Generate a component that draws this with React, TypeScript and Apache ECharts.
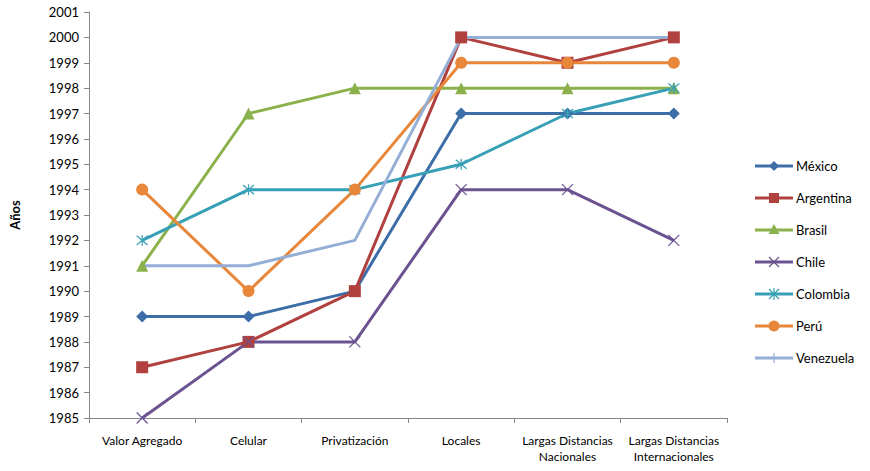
import React, { useEffect, useRef } from "react";
import * as echarts from "echarts";

const categories = [
  "Valor Agregado",
  "Celular",
  "Privatización",
  "Locales",
  "Largas Distancias\nNacionales",
  "Largas Distancias\nInternacionales",
];

const countries = ["México", "Argentina", "Brasil", "Chile", "Colombia", "Perú", "Venezuela"];
const colors = ["#3d6ea8", "#b0413e", "#8ab14b", "#6b5290", "#37a0b6", "#e8863a", "#94aed6"];

const mexico = [1989, 1989, 1990, 1997, 1997, 1997];
const argentina = [1987, 1988, 1990, 2000, 1999, 2000];
const brasil = [1991, 1997, 1998, 1998, 1998, 1998];
const chile = [1985, 1988, 1988, 1994, 1994, 1992];
const colombia = [1992, 1994, 1994, 1995, 1997, 1998];
const peru = [1994, 1990, 1994, 1999, 1999, 1999];
const venezuela = [1991, 1991, 1992, 2000, 2000, 2000];

const crossPath = "path://M0,0L10,10M10,0L0,10";
const asteriskPath = "path://M0,0L10,10M10,0L0,10M5,-1L5,11";
const barPath = "path://M5,0L5,10";

const FONT = "Lato, 'Open Sans', sans-serif";

// Legend key: a short line with the series' marker drawn on top.
function legendMarker(i: number, cx: number, cy: number, color: string): any[] {
  const thin = { stroke: color, lineWidth: 1.2, fill: "none" };
  switch (i) {
    case 0:
      return [{ type: "polygon", shape: { points: [[cx, cy - 5], [cx + 5, cy], [cx, cy + 5], [cx - 5, cy]] }, style: { fill: color } }];
    case 1:
      return [{ type: "rect", shape: { x: cx - 5, y: cy - 5, width: 10, height: 10 }, style: { fill: color } }];
    case 2:
      return [{ type: "polygon", shape: { points: [[cx, cy - 6], [cx + 5.5, cy + 4], [cx - 5.5, cy + 4]] }, style: { fill: color } }];
    case 3:
      return [
        { type: "line", shape: { x1: cx - 5, y1: cy - 5, x2: cx + 5, y2: cy + 5 }, style: thin },
        { type: "line", shape: { x1: cx + 5, y1: cy - 5, x2: cx - 5, y2: cy + 5 }, style: thin },
      ];
    case 4:
      return [
        { type: "line", shape: { x1: cx - 5, y1: cy - 5, x2: cx + 5, y2: cy + 5 }, style: thin },
        { type: "line", shape: { x1: cx + 5, y1: cy - 5, x2: cx - 5, y2: cy + 5 }, style: thin },
        { type: "line", shape: { x1: cx, y1: cy - 6, x2: cx, y2: cy + 6 }, style: thin },
      ];
    case 5:
      return [{ type: "circle", shape: { cx, cy, r: 5.5 }, style: { fill: color } }];
    default:
      return [{ type: "line", shape: { x1: cx, y1: cy - 5, x2: cx, y2: cy + 5 }, style: thin }];
  }
}

export default function App() {
  const ref = useRef<HTMLDivElement>(null);

  useEffect(() => {
    if (!ref.current) return;
    const chart = echarts.init(ref.current, undefined, { renderer: "svg" });

    const mk = (
      i: number,
      data: number[],
      symbol: string,
      symbolSize: number,
      thinSymbol = false
    ) => ({
      name: countries[i],
      type: "line",
      data,
      symbol,
      symbolSize,
      showSymbol: true,
      lineStyle: { color: colors[i], width: 3 },
      itemStyle: thinSymbol
        ? { color: "none", borderColor: colors[i], borderWidth: 1.2 }
        : { color: colors[i], borderColor: colors[i], borderWidth: 0 },
      emphasis: { disabled: true },
      z: 2,
    });

    const legendX = 755;
    const legendY = 166;
    const legendStep = 32;
    const legendElements: any[] = [];
    countries.forEach((name, i) => {
      const y = legendY + i * legendStep;
      legendElements.push({
        type: "line",
        shape: { x1: legendX, y1: y, x2: legendX + 38, y2: y },
        style: { stroke: colors[i], lineWidth: 3 },
      });
      legendElements.push(...legendMarker(i, legendX + 19, y, colors[i]));
      legendElements.push({
        type: "text",
        x: legendX + 41,
        y,
        style: {
          text: name,
          fill: "#000",
          font: `13px ${FONT}`,
          textVerticalAlign: "middle",
          verticalAlign: "middle",
        },
      });
    });

    chart.setOption({
      animation: false,
      backgroundColor: "#ffffff",
      textStyle: { fontFamily: FONT },
      grid: { left: 88, top: 12, width: 639, height: 406, containLabel: false },
      graphic: legendElements,
      xAxis: {
        type: "category",
        data: categories,
        boundaryGap: true,
        axisLine: { lineStyle: { color: "#868686", width: 1 } },
        axisTick: { show: true, alignWithLabel: false, length: 5, lineStyle: { color: "#868686" } },
        axisLabel: {
          color: "#000",
          fontSize: 12,
          margin: 14,
          interval: 0,
          align: "center",
          lineHeight: 16,
          fontFamily: FONT,
        },
      },
      yAxis: {
        type: "value",
        min: 1985,
        max: 2001,
        interval: 1,
        name: "Años",
        nameLocation: "middle",
        nameGap: 68,
        nameRotate: 90,
        nameTextStyle: { fontWeight: "bold", fontSize: 13, color: "#000", fontFamily: FONT },
        splitLine: { show: false },
        axisLine: { show: true, lineStyle: { color: "#868686", width: 1 } },
        axisTick: { show: true, length: 5, lineStyle: { color: "#868686" } },
        axisLabel: {
          color: "#000",
          fontSize: 13,
          margin: 10,
          fontFamily: FONT,
          formatter: (v: number) => String(v),
        },
      },
      series: [
        mk(0, mexico, "diamond", 12),
        mk(1, argentina, "rect", 12),
        mk(2, brasil, "triangle", 12),
        mk(3, chile, crossPath, 11, true),
        mk(4, colombia, asteriskPath, 11, true),
        mk(5, peru, "circle", 12),
        mk(6, venezuela, barPath, 12, true),
      ],
    });

    return () => chart.dispose();
  }, []);

  return (
    <div
      ref={ref}
      style={{ position: "absolute", left: 0, top: 0, width: 870, height: 471 }}
    />
  );
}
